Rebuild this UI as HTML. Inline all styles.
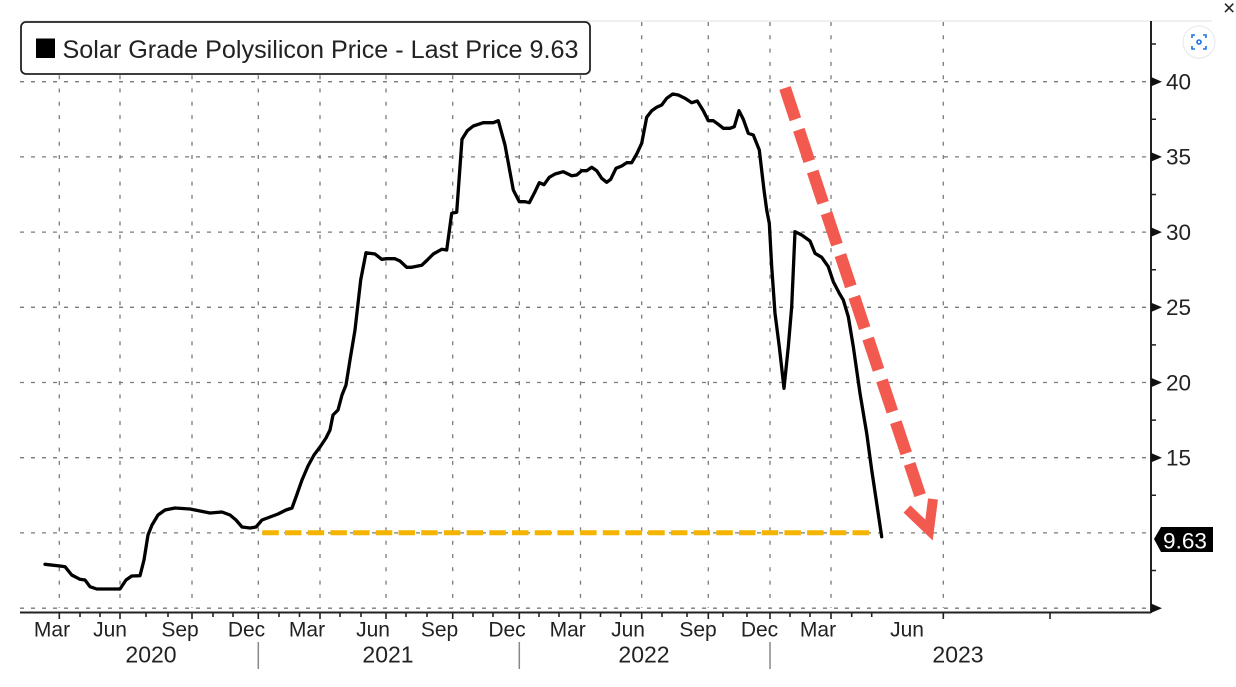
<!DOCTYPE html>
<html>
<head>
<meta charset="utf-8">
<style>
html,body{margin:0;padding:0;background:#fff;}
body{width:1236px;height:687px;overflow:hidden;}
svg{display:block;}
text{font-family:"Liberation Sans","DejaVu Sans",sans-serif;fill:#222;}
</style>
</head>
<body>
<svg width="1236" height="687" viewBox="0 0 1236 687" xmlns="http://www.w3.org/2000/svg">
<rect width="1236" height="687" fill="#fff"/>
<path d="M20 21H1212" stroke="#e2e2e2" stroke-width="1"/>

<path stroke="#7a7a7a" stroke-width="1.3" stroke-dasharray="4 7" fill="none"
 d="M20 81.7H1150M20 156.9H1150M20 232.1H1150M20 307.3H1150M20 382.5H1150M20 457.7H1150M20 532.9H1150M20 608.2H1150"/>
<path stroke="#7a7a7a" stroke-width="1.3" stroke-dasharray="4 9.3" fill="none"
 d="M59.3 22V608M120 22V608M192 22V608M258.3 22V608M320 22V608M386 22V608M452.7 22V608M519.3 22V608M580.5 22V608M641.7 22V608M708.3 22V608M770 22V608M831 22V608M943.3 22V608"/>

<rect x="21" y="22" width="569" height="52" rx="5" ry="5" fill="#fff" stroke="#222" stroke-width="1.8"/>
<rect x="36" y="38.5" width="19" height="19.5" fill="#000"/>
<text x="62.5" y="58" font-size="25" textLength="516" lengthAdjust="spacingAndGlyphs">Solar Grade Polysilicon Price - Last Price 9.63</text>

<path d="M262.3 532.7H870" stroke="#f4b400" stroke-width="5" stroke-dasharray="16.5 6.2"/>

<path fill="none" stroke="#000" stroke-width="3.3" stroke-linejoin="round" stroke-linecap="round"
 d="M45 564.3L60 566L65 566.7L71.7 575L80 579.3L85 580L90 586.7L96.7 589L120 589L126 580L131.7 576L140 575.7L144 560L148 535L152 525L158 515L165 510L175 508L190 509L200 511L210 513L222 512L230 515L236 520L242 527L250 528L256 527L262 520L270 517L278 514L286 510L292 508L296 497L302 480L308 466L314 455L320 447L326 438L330 430L333 415L338 410L342 395L346 385L350 360L355 330L360.7 280L366 252.7L375 254L381.7 259.3L386.7 258.7L395 258.7L400 261L406.7 267.3L411.7 267.3L421.7 265.3L427.3 260L433.3 254L441.7 249.3L446.7 250L451.7 213.3L456.7 212.3L462 139.3L467.3 130.7L473.3 126L483.3 122.7L493.3 122.7L498.3 120.7L505 145L513.3 190L519.3 201.7L525 201.7L529.3 202.7L535 191.7L539.3 182.7L544 184.7L549.3 177.3L555 174L563.3 171.7L571.7 175.7L576.7 175L581.7 170.7L586.7 170.7L591.7 167.3L596.7 170.7L601.7 178.3L606.7 182.3L610.7 179.3L616 168.3L621.7 166L626.7 162.7L631.7 162.7L636.7 154L641.7 143.3L646.7 117.3L651.7 110.7L656.7 107.3L661.7 105L666.7 98.3L672.7 94L678.3 95L685 98.3L691.7 102.7L697.3 101L703.3 110.7L708.3 120.7L713.3 120.7L718.3 124.3L723.3 128.3L730 128.3L734.3 126.7L739 110.7L743.3 119.3L748.3 133.3L753.3 135L759.3 150L764 190L766.7 210L769.3 223.3L771.7 266.7L775 313.3L779.3 346.7L784 388.3L788.3 346.7L791.7 306.7L795 231.7L801.7 235L810 241L815 253.3L821.7 257.3L828.3 266.7L833.3 281.7L839.3 293.3L843.3 300L848.3 316.7L853.3 346.7L860 393.3L866.7 433.3L871.7 470L876.7 503.3L881.7 536.7"/>

<path d="M785 88L922 501" stroke="#f25a50" stroke-width="12" stroke-dasharray="33 11"/>
<path d="M907 509L929 530L933 499" fill="none" stroke="#f25a50" stroke-width="10"/>

<path d="M1151 21V613" stroke="#222" stroke-width="2"/>
<path fill="#111" d="M1151 77L1162 81.7L1151 86.4ZM1151 152.2L1162 156.9L1151 161.6ZM1151 227.4L1162 232.1L1151 236.8ZM1151 302.6L1162 307.3L1151 312ZM1151 377.8L1162 382.5L1151 387.2ZM1151 453L1162 457.7L1151 462.4ZM1151 603.5L1162 608.2L1151 612.9Z"/>
<path stroke="#222" stroke-width="1.5" d="M1151 44h5M1151 119.3h5M1151 194.5h5M1151 269.7h5M1151 344.9h5M1151 420.1h5M1151 495.3h5M1151 570.5h5"/>
<g font-size="22.5">
<text x="1166" y="89.5">40</text>
<text x="1166" y="164.7">35</text>
<text x="1166" y="239.9">30</text>
<text x="1166" y="315.1">25</text>
<text x="1166" y="390.3">20</text>
<text x="1166" y="465.5">15</text>
</g>
<path d="M1154 539L1161 527H1213V552H1161Z" fill="#000"/>
<text x="1163" y="548.3" font-size="22.5" style="fill:#fff" textLength="44" lengthAdjust="spacingAndGlyphs">9.63</text>

<path d="M20 612.5H1151" stroke="#222" stroke-width="2"/>
<path stroke="#222" stroke-width="1.6" d="M59.3 612v7M120 612v7M192 612v7M258.3 612v7M320 612v7M386 612v7M452.7 612v7M519.3 612v7M580.5 612v7M641.7 612v7M708.3 612v7M770 612v7M831 612v7M943.3 612v7M1050 612v7"/>
<path stroke="#222" stroke-width="1.6" d="M80 612v5M100 612v5M146 612v5M168 612v5M213 612v5M233 612v5M279 612v5M299.5 612v5M340 612v5M361 612v5M406 612v5M427 612v5M473 612v5M493 612v5M539 612v5M559 612v5M600.5 612v5M620.7 612v5M662 612v5M687 612v5M723 612v5M747 612v5M790 612v5M810 612v5M851.7 612v5M871.7 612v5"/>
<g font-size="21" text-anchor="middle">
<text x="52" y="636.7">Mar</text>
<text x="110" y="636.7">Jun</text>
<text x="180" y="636.7">Sep</text>
<text x="246.5" y="636.7">Dec</text>
<text x="307" y="636.7">Mar</text>
<text x="373" y="636.7">Jun</text>
<text x="439.5" y="636.7">Sep</text>
<text x="507" y="636.7">Dec</text>
<text x="567.7" y="636.7">Mar</text>
<text x="628" y="636.7">Jun</text>
<text x="698" y="636.7">Sep</text>
<text x="759.5" y="636.7">Dec</text>
<text x="818" y="636.7">Mar</text>
<text x="907" y="636.7">Jun</text>
</g>
<g font-size="23" text-anchor="middle">
<text x="151" y="662.7">2020</text>
<text x="388" y="662.7">2021</text>
<text x="644" y="662.7">2022</text>
<text x="958" y="662.7">2023</text>
</g>
<path stroke="#888" stroke-width="1.5" d="M258.3 642v27M519.3 642v27M770 642v27"/>

<text x="1223" y="15" font-size="21">×</text>
<circle cx="1199" cy="43" r="16" fill="#f2f2f2"/>
<circle cx="1199" cy="42" r="16" fill="#fff" stroke="#e8e8e8" stroke-width="1"/>
<path fill="none" stroke="#1a73e8" stroke-width="1.6" d="M1192 38v-3h3M1203 35h3v3M1206 46v3h-3M1195 49h-3v-3"/>
<circle cx="1199" cy="42" r="2" fill="none" stroke="#1a73e8" stroke-width="1.6"/>
</svg>
</body>
</html>
